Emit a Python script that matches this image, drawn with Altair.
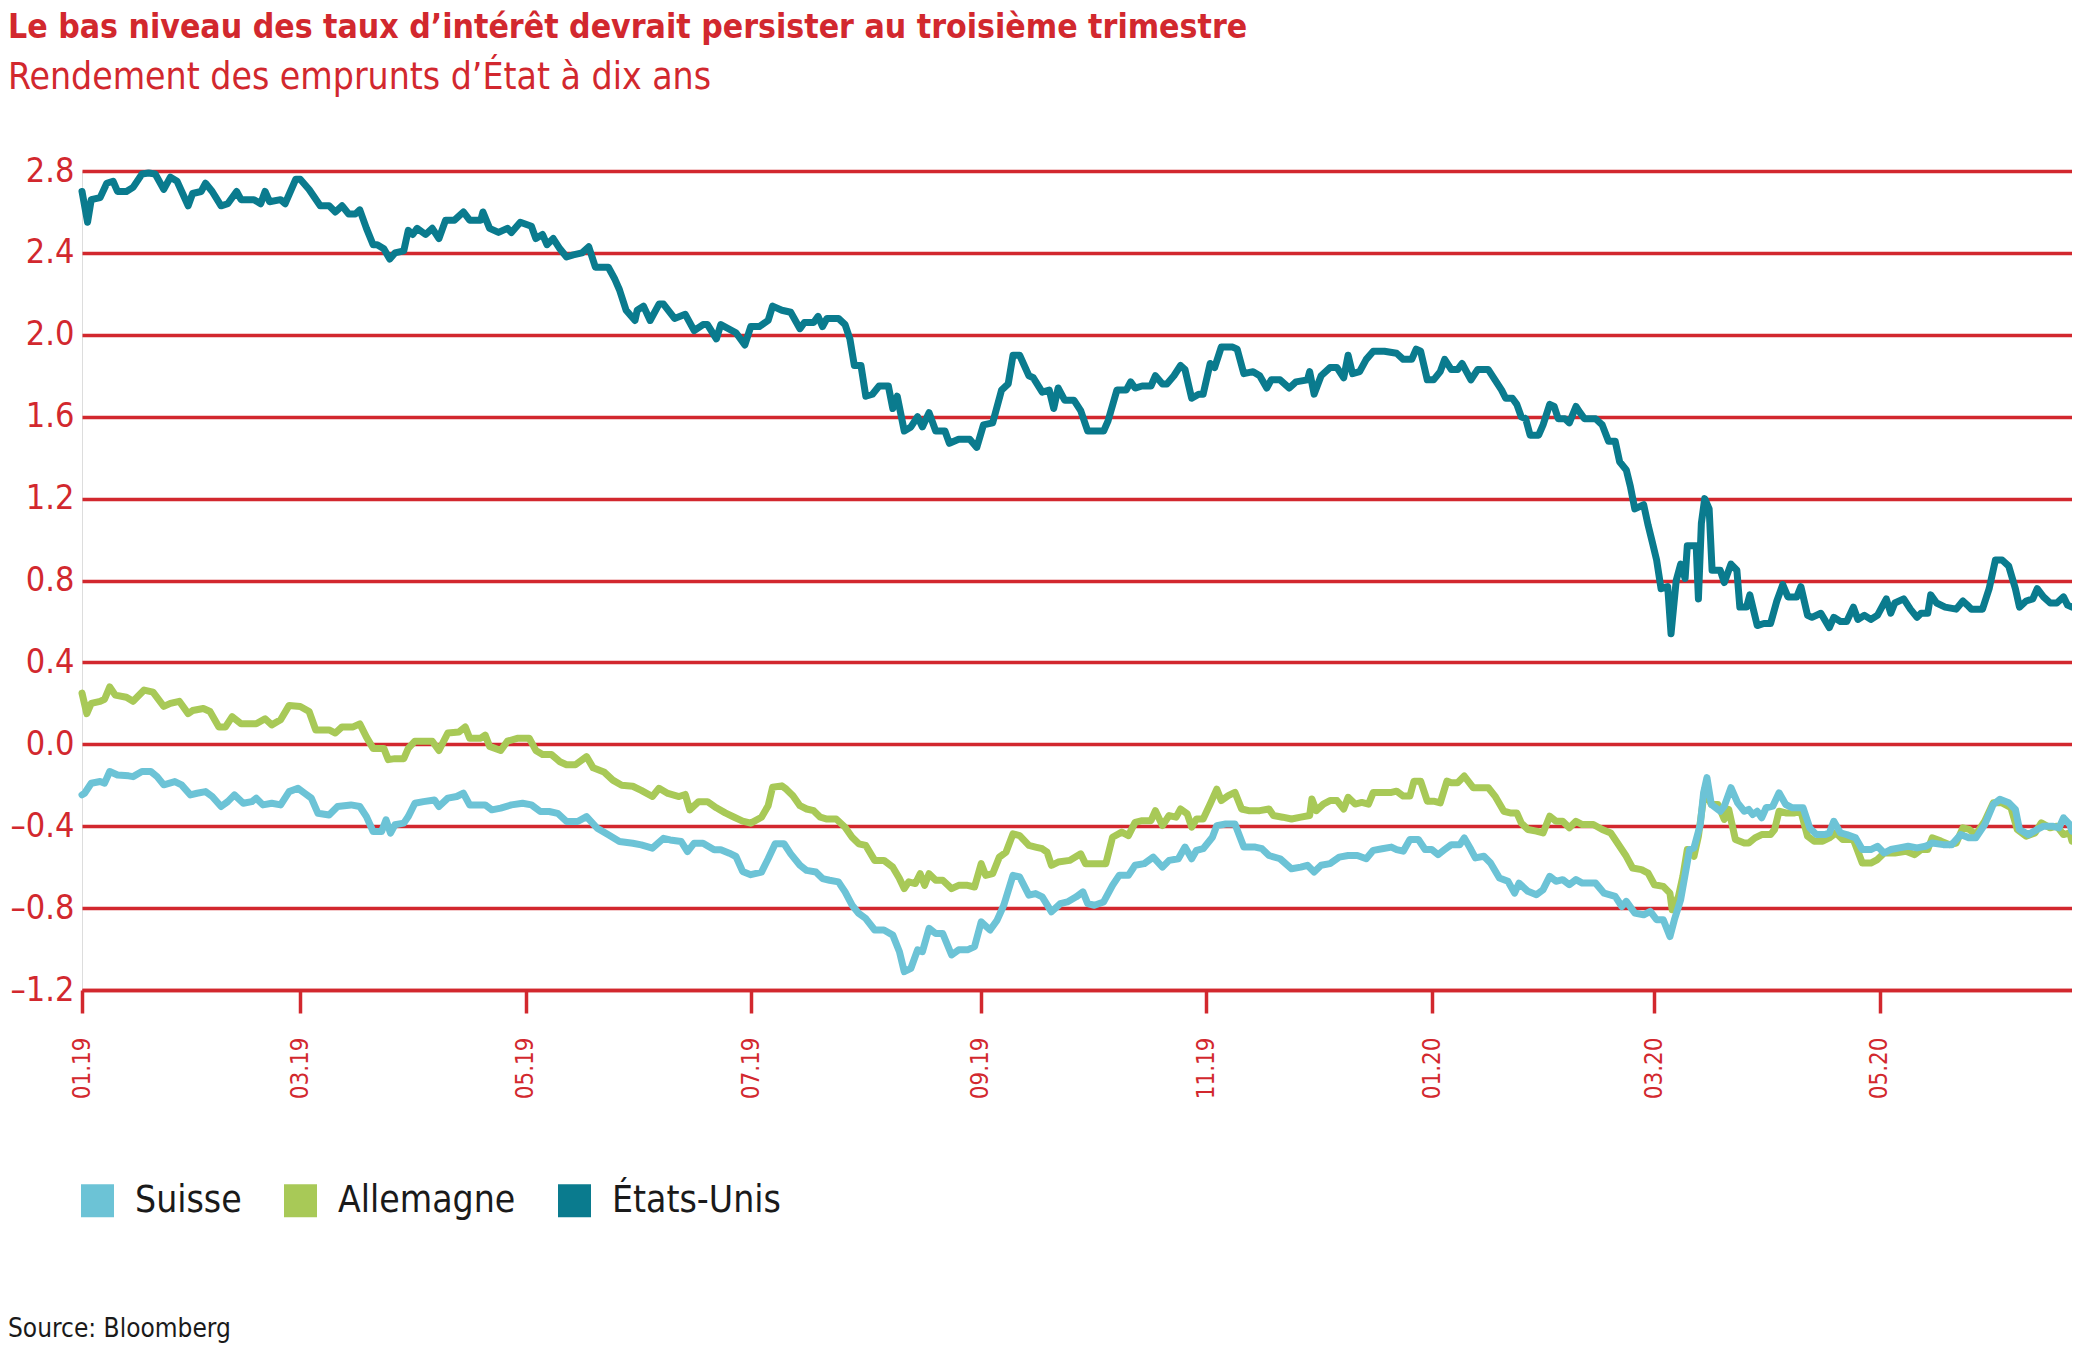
import altair as alt
import pandas as pd

RED = "#d2282e"
FONT = "Liberation Sans Narrow, DejaVu Sans Condensed, Arial Narrow, sans-serif"

# (days since 01.01.2019, 10-year yield in %)
usa = [
    (0, 2.70), (1.5, 2.55), (2.5, 2.66), (4.9, 2.67), (6.7, 2.74), (8.4, 2.75), (9.6, 2.70),
    (12.0, 2.70), (13.8, 2.72), (16.2, 2.785), (18.0, 2.79), (19.8, 2.785), (22.1, 2.71),
    (23.9, 2.77), (25.7, 2.75), (28.7, 2.63), (29.9, 2.69), (32.2, 2.70), (33.4, 2.74),
    (35.2, 2.70), (37.6, 2.63), (39.4, 2.64), (41.8, 2.70), (43.0, 2.66), (46.5, 2.66),
    (48.3, 2.64), (49.5, 2.70), (50.7, 2.65), (53.7, 2.66), (54.9, 2.64), (57.8, 2.76),
    (59.0, 2.76), (61.4, 2.71), (64.4, 2.63), (66.8, 2.63), (68.5, 2.60), (70.3, 2.63),
    (72.1, 2.59), (73.9, 2.59), (75.1, 2.61), (76.9, 2.52), (78.7, 2.44), (79.8, 2.44),
    (81.6, 2.42), (83.2, 2.37), (84.6, 2.40), (87.0, 2.41), (88.2, 2.51), (89.4, 2.49),
    (90.6, 2.52), (92.9, 2.49), (94.7, 2.52), (96.5, 2.47), (98.3, 2.56), (100.7, 2.56),
    (103.1, 2.60), (104.8, 2.56), (107.8, 2.56), (108.4, 2.60), (110.2, 2.52), (112.6, 2.50),
    (115.0, 2.52), (116.1, 2.50), (118.5, 2.55), (121.5, 2.53), (122.7, 2.47), (124.5, 2.49),
    (125.7, 2.44), (127.4, 2.47), (129.2, 2.42), (131.0, 2.38), (132.8, 2.39), (135.2, 2.40),
    (137.0, 2.43), (138.8, 2.33), (142.3, 2.33), (144.1, 2.27), (145.3, 2.22), (147.1, 2.12),
    (149.5, 2.07), (150.1, 2.12), (151.8, 2.14), (153.6, 2.07), (156.0, 2.15), (157.2, 2.15),
    (160.2, 2.08), (163.1, 2.10), (165.5, 2.02), (167.9, 2.05), (169.1, 2.05), (171.5, 1.98),
    (172.7, 2.05), (176.8, 2.01), (179.2, 1.95), (180.8, 2.04),
    (183.1, 2.04), (185.5, 2.07), (186.7, 2.14), (189.2, 2.12), (191.6, 2.11), (194.1, 2.03),
    (195.3, 2.06), (197.8, 2.06), (199.0, 2.09), (200.2, 2.04), (201.4, 2.08), (204.5, 2.08),
    (206.3, 2.05), (207.6, 1.98), (208.8, 1.85), (210.6, 1.85), (211.9, 1.70), (213.7, 1.71),
    (215.5, 1.75), (218.0, 1.75), (219.2, 1.64), (220.4, 1.70), (222.3, 1.53), (224.1, 1.55),
    (225.9, 1.60), (227.2, 1.55), (229.0, 1.62), (230.8, 1.53), (233.3, 1.53), (234.5, 1.47),
    (237.0, 1.49), (240.0, 1.49), (241.9, 1.45), (243.7, 1.56), (246.2, 1.57), (248.6, 1.73),
    (250.4, 1.76), (251.7, 1.90), (253.5, 1.90), (256.0, 1.80), (257.2, 1.79), (259.6, 1.72),
    (261.5, 1.73), (262.7, 1.64), (263.9, 1.74), (265.7, 1.68), (268.2, 1.68), (270.0, 1.63),
    (271.9, 1.53), (274.3, 1.53), (276.2, 1.53), (277.4, 1.58), (279.8, 1.73), (282.3, 1.73),
    (283.5, 1.77), (284.7, 1.74), (286.6, 1.75), (289.0, 1.75), (290.2, 1.80), (292.1, 1.76),
    (293.3, 1.76), (295.2, 1.80), (297.0, 1.85), (298.2, 1.83), (300.0, 1.69), (301.9, 1.71),
    (303.1, 1.71), (305.0, 1.86), (306.2, 1.84), (308.0, 1.94), (311.1, 1.94), (312.3, 1.93),
    (314.1, 1.81), (316.6, 1.82), (318.4, 1.80), (320.3, 1.74), (321.5, 1.78), (323.9, 1.78),
    (326.4, 1.74), (328.2, 1.77), (331.3, 1.78), (331.9, 1.82), (333.1, 1.71), (335.0, 1.80),
    (337.4, 1.84), (339.3, 1.84), (341.1, 1.79), (342.3, 1.90), (343.5, 1.81), (345.4, 1.82),
    (347.2, 1.88), (349.1, 1.92), (352.1, 1.92),
    (355.4, 1.91), (357.2, 1.88), (359.5, 1.88), (360.7, 1.93), (361.9, 1.92), (363.7, 1.78),
    (365.4, 1.78), (367.2, 1.82), (368.4, 1.88), (370.2, 1.83), (371.9, 1.83), (373.1, 1.86),
    (375.5, 1.78), (377.3, 1.83), (380.2, 1.83), (382.0, 1.78), (383.8, 1.73), (384.9, 1.69),
    (386.7, 1.69), (387.9, 1.66), (389.1, 1.60), (390.3, 1.59), (391.5, 1.51), (393.8, 1.51),
    (395.0, 1.56), (396.8, 1.66), (398.0, 1.65), (399.1, 1.59), (400.9, 1.59), (402.1, 1.57),
    (403.9, 1.65), (405.0, 1.62), (406.2, 1.59), (409.2, 1.59), (411.0, 1.56), (412.7, 1.48),
    (414.5, 1.48), (415.7, 1.38), (417.5, 1.34), (418.6, 1.26), (419.8, 1.15), (422.2, 1.17),
    (423.4, 1.07), (424.5, 0.99), (425.7, 0.90), (426.9, 0.76), (428.7, 0.77), (429.6, 0.54),
    (431.0, 0.80), (432.2, 0.88), (433.4, 0.81), (434.0, 0.97), (436.4, 0.97), (437.0, 0.71),
    (437.8, 1.08), (438.7, 1.20), (439.9, 1.15), (440.7, 0.85), (442.9, 0.85), (444.0, 0.79),
    (445.8, 0.88), (447.4, 0.85), (448.2, 0.67), (450.0, 0.67), (450.9, 0.73), (452.9, 0.58),
    (454.7, 0.59), (456.5, 0.59), (458.2, 0.70), (459.8, 0.78), (461.2, 0.72), (463.6, 0.72),
    (464.7, 0.77), (466.5, 0.63), (467.7, 0.62), (470.1, 0.64), (472.4, 0.57), (473.6, 0.62),
    (475.4, 0.60), (477.1, 0.60), (478.9, 0.67), (480.1, 0.61), (481.9, 0.63), (483.6, 0.61),
    (485.4, 0.63), (487.8, 0.71), (489.0, 0.64), (490.1, 0.69), (492.5, 0.71), (494.3, 0.66),
    (496.1, 0.62), (497.2, 0.64), (499.0, 0.64), (499.8, 0.73), (501.4, 0.69), (503.7, 0.67),
    (506.7, 0.66), (508.5, 0.70), (509.7, 0.68), (510.8, 0.66), (513.8, 0.66), (515.6, 0.76),
    (517.3, 0.90), (519.1, 0.90), (520.9, 0.87), (522.7, 0.76), (523.8, 0.67), (525.6, 0.70),
    (527.4, 0.71), (528.6, 0.76), (530.3, 0.72), (532.1, 0.69), (533.9, 0.69), (535.7, 0.72),
    (536.8, 0.68), (538.0, 0.67),
]

allemagne = [
    (0, 0.25), (1.3, 0.15), (2.5, 0.20), (4.9, 0.21), (6.1, 0.22), (7.5, 0.28), (9.0, 0.24),
    (12.0, 0.23), (13.8, 0.21), (16.8, 0.265), (19.2, 0.255), (22.1, 0.185), (23.9, 0.20),
    (26.3, 0.21), (28.7, 0.15), (29.9, 0.165), (32.8, 0.175), (34.6, 0.16), (37.0, 0.085),
    (38.8, 0.085), (40.6, 0.135), (43.0, 0.10), (45.3, 0.10), (47.1, 0.10), (49.5, 0.125),
    (51.3, 0.095), (53.7, 0.12), (56.0, 0.19), (59.0, 0.185), (61.4, 0.16), (63.2, 0.07),
    (66.8, 0.07), (68.5, 0.055), (70.3, 0.085), (73.3, 0.085), (75.1, 0.10), (76.9, 0.035),
    (78.7, -0.02), (81.6, -0.02), (82.8, -0.075), (84.6, -0.07), (87.0, -0.07), (88.2, -0.02),
    (90.0, 0.015), (91.7, 0.015), (94.7, 0.015), (96.5, -0.03), (98.9, 0.055), (101.9, 0.06),
    (103.6, 0.085), (104.8, 0.03), (107.8, 0.03), (109.0, 0.045), (110.2, -0.01), (113.2, -0.03),
    (115.0, 0.015), (117.9, 0.03), (120.9, 0.03), (122.7, -0.03), (124.5, -0.05), (126.9, -0.05),
    (129.2, -0.085), (131.0, -0.10), (133.4, -0.10), (136.4, -0.06), (138.2, -0.115),
    (141.1, -0.135), (143.5, -0.175), (145.9, -0.20), (148.9, -0.205), (151.2, -0.225),
    (154.2, -0.255), (156.0, -0.215), (158.4, -0.24), (161.4, -0.255), (163.1, -0.245),
    (164.3, -0.32), (166.7, -0.28), (169.1, -0.28), (171.5, -0.31), (173.9, -0.335),
    (176.2, -0.355), (178.6, -0.375), (180.8, -0.385),
    (183.7, -0.356), (185.5, -0.30), (186.7, -0.21), (189.2, -0.203), (190.4, -0.219),
    (192.2, -0.251), (194.1, -0.30), (195.9, -0.316), (197.8, -0.324), (199.6, -0.356),
    (201.4, -0.365), (203.9, -0.365), (206.3, -0.405), (208.2, -0.454), (210.0, -0.486),
    (211.9, -0.494), (214.3, -0.567), (216.8, -0.567), (219.2, -0.60), (221.0, -0.656),
    (222.3, -0.705), (223.5, -0.672), (225.3, -0.68), (226.6, -0.632), (227.8, -0.689),
    (229.0, -0.632), (230.8, -0.664), (232.7, -0.664), (235.1, -0.705), (237.0, -0.689),
    (239.4, -0.689), (241.3, -0.697), (243.1, -0.583), (244.3, -0.64), (246.2, -0.632),
    (248.0, -0.551), (249.8, -0.527), (251.7, -0.437), (253.5, -0.446), (256.0, -0.494),
    (257.8, -0.502), (259.6, -0.51), (260.9, -0.527), (262.1, -0.591), (263.9, -0.575),
    (267.0, -0.567), (270.0, -0.535), (271.3, -0.583), (273.1, -0.583), (276.8, -0.583),
    (278.6, -0.454), (281.1, -0.429), (282.9, -0.446), (284.7, -0.381), (286.6, -0.373),
    (289.0, -0.373), (290.2, -0.324), (292.1, -0.397), (293.9, -0.348), (295.8, -0.356),
    (297.0, -0.316), (298.8, -0.34), (300.0, -0.405), (301.3, -0.365), (303.1, -0.365),
    (305.0, -0.292), (306.8, -0.219), (308.0, -0.275), (309.9, -0.251), (311.7, -0.235),
    (313.5, -0.316), (315.4, -0.324), (318.4, -0.324), (320.9, -0.316), (322.1, -0.348),
    (324.6, -0.356), (327.0, -0.365), (329.5, -0.356), (331.9, -0.348), (332.5, -0.267),
    (333.7, -0.324), (335.6, -0.292), (337.4, -0.275), (339.3, -0.275), (341.1, -0.316),
    (342.3, -0.259), (344.2, -0.292), (346.0, -0.284), (347.8, -0.292), (349.1, -0.235),
    (351.5, -0.235), (354.0, -0.235),
    (355.4, -0.229), (357.2, -0.253), (359.0, -0.253), (360.1, -0.18), (361.9, -0.18),
    (363.7, -0.278), (365.4, -0.278), (367.2, -0.286), (369.0, -0.18), (370.2, -0.188),
    (371.9, -0.188), (373.7, -0.155), (376.1, -0.212), (378.4, -0.212), (380.2, -0.212),
    (382.0, -0.253), (384.4, -0.327), (386.1, -0.335), (387.9, -0.335), (389.1, -0.384),
    (390.9, -0.416), (393.2, -0.424), (395.0, -0.433), (396.8, -0.351), (398.5, -0.376),
    (400.3, -0.376), (402.1, -0.408), (403.9, -0.376), (405.6, -0.392), (408.6, -0.392),
    (411.0, -0.416), (413.3, -0.433), (415.7, -0.498), (417.5, -0.547), (419.2, -0.604),
    (421.6, -0.612), (423.4, -0.629), (425.1, -0.686), (427.5, -0.694), (429.3, -0.727),
    (429.9, -0.808), (431.6, -0.743), (432.8, -0.645), (434.0, -0.514), (435.8, -0.547),
    (437.0, -0.449), (438.7, -0.22), (440.5, -0.294), (442.3, -0.294), (444.0, -0.367),
    (445.2, -0.318), (447.0, -0.465), (449.4, -0.482), (450.6, -0.482), (452.3, -0.457),
    (454.1, -0.441), (456.5, -0.441), (457.6, -0.416), (458.8, -0.327), (460.6, -0.335),
    (463.0, -0.335), (464.7, -0.327), (466.5, -0.449), (468.3, -0.473), (470.6, -0.473),
    (472.4, -0.457), (474.2, -0.433), (476.0, -0.465), (478.9, -0.465), (481.3, -0.58),
    (483.6, -0.58), (485.4, -0.563), (487.2, -0.531), (490.1, -0.531), (493.1, -0.522),
    (495.5, -0.539), (497.2, -0.514), (499.0, -0.514), (500.2, -0.457), (502.6, -0.473),
    (504.9, -0.49), (506.7, -0.482), (508.5, -0.408), (510.2, -0.416), (512.0, -0.441),
    (514.4, -0.376), (516.7, -0.286), (519.1, -0.286), (521.5, -0.31), (523.2, -0.416),
    (525.6, -0.449), (528.0, -0.433), (529.7, -0.384), (532.1, -0.408), (533.9, -0.40),
    (535.7, -0.441), (537.4, -0.433), (538.0, -0.473),
]

suisse = [
    (0, -0.247), (0.7, -0.239), (2.5, -0.19), (4.9, -0.182), (6.1, -0.19), (7.5, -0.133),
    (9.6, -0.15), (12.6, -0.154), (13.8, -0.158), (16.2, -0.133), (18.6, -0.133),
    (20.3, -0.158), (22.1, -0.198), (25.1, -0.182), (26.9, -0.198), (29.3, -0.247),
    (31.1, -0.239), (33.4, -0.231), (35.2, -0.255), (37.6, -0.304), (39.4, -0.28),
    (41.2, -0.247), (43.6, -0.288), (45.9, -0.28), (47.1, -0.263), (48.9, -0.296),
    (51.3, -0.288), (53.7, -0.296), (56.0, -0.231), (58.4, -0.215), (60.2, -0.239),
    (62.0, -0.263), (63.8, -0.337), (66.8, -0.345), (69.1, -0.304), (72.7, -0.296),
    (75.1, -0.304), (76.9, -0.353), (78.7, -0.426), (81.0, -0.426), (82.2, -0.369),
    (83.4, -0.434), (84.6, -0.393), (87.0, -0.385), (88.2, -0.353), (90.0, -0.288),
    (92.3, -0.28), (95.3, -0.272), (96.5, -0.304), (98.9, -0.263), (101.3, -0.255),
    (103.1, -0.239), (104.8, -0.296), (109.0, -0.296), (110.8, -0.32), (113.2, -0.312),
    (116.1, -0.296), (119.1, -0.288), (121.5, -0.296), (123.9, -0.328), (126.3, -0.328),
    (128.6, -0.337), (131.0, -0.377), (134.0, -0.377), (136.4, -0.353), (139.3, -0.41),
    (142.3, -0.442), (145.3, -0.475), (148.9, -0.483), (151.2, -0.491), (154.2, -0.507),
    (157.2, -0.459), (159.0, -0.467), (162.0, -0.475), (163.7, -0.524), (165.5, -0.483),
    (167.9, -0.483), (170.9, -0.515), (172.7, -0.515), (175.0, -0.532), (176.8, -0.548),
    (178.6, -0.621), (180.8, -0.637),
    (183.7, -0.624), (185.5, -0.559), (187.4, -0.486), (189.8, -0.486), (191.6, -0.535),
    (194.1, -0.591), (195.9, -0.616), (198.4, -0.624), (200.2, -0.656), (202.1, -0.664),
    (204.5, -0.672), (206.3, -0.721), (208.2, -0.786), (210.0, -0.826), (211.9, -0.851),
    (214.3, -0.907), (216.8, -0.907), (219.2, -0.932), (221.0, -1.013), (222.3, -1.11),
    (224.1, -1.094), (225.9, -1.004), (227.2, -1.013), (229.0, -0.899), (230.8, -0.924),
    (232.7, -0.924), (235.1, -1.029), (237.0, -1.004), (239.4, -1.004), (241.3, -0.988),
    (243.1, -0.867), (245.5, -0.907), (247.4, -0.859), (249.2, -0.786), (251.7, -0.64),
    (253.5, -0.648), (256.0, -0.737), (257.8, -0.729), (259.6, -0.745), (262.1, -0.818),
    (264.5, -0.778), (266.4, -0.77), (268.8, -0.745), (270.6, -0.721), (271.9, -0.778),
    (273.7, -0.786), (276.2, -0.77), (278.6, -0.689), (280.4, -0.64), (282.9, -0.64),
    (284.7, -0.591), (287.2, -0.583), (289.6, -0.551), (292.1, -0.6), (293.9, -0.567),
    (296.4, -0.559), (298.2, -0.502), (300.0, -0.559), (301.3, -0.518), (303.1, -0.51),
    (305.6, -0.454), (306.8, -0.397), (309.2, -0.389), (311.7, -0.389), (314.1, -0.502),
    (317.2, -0.502), (319.0, -0.51), (320.9, -0.543), (323.9, -0.559), (327.0, -0.608),
    (329.5, -0.6), (331.3, -0.591), (333.1, -0.624), (335.0, -0.591), (337.4, -0.583),
    (339.9, -0.551), (342.3, -0.543), (344.8, -0.543), (347.2, -0.559), (349.1, -0.518),
    (351.5, -0.51), (354.0, -0.502),
    (355.4, -0.514), (357.2, -0.522), (359.0, -0.465), (361.3, -0.465), (363.1, -0.514),
    (364.9, -0.514), (366.6, -0.539), (368.4, -0.514), (370.2, -0.49), (372.5, -0.49),
    (373.7, -0.457), (375.5, -0.514), (376.7, -0.555), (379.0, -0.547), (380.8, -0.58),
    (383.2, -0.653), (385.5, -0.669), (387.3, -0.727), (388.5, -0.678), (390.9, -0.718),
    (393.2, -0.735), (395.0, -0.71), (396.8, -0.645), (398.5, -0.669), (400.3, -0.661),
    (402.1, -0.686), (403.9, -0.661), (405.6, -0.678), (409.2, -0.678), (411.5, -0.727),
    (414.5, -0.743), (416.3, -0.792), (417.5, -0.767), (419.8, -0.824), (422.2, -0.833),
    (424.0, -0.816), (425.7, -0.857), (427.5, -0.857), (429.3, -0.939), (430.5, -0.857),
    (432.2, -0.759), (433.4, -0.637), (434.6, -0.514), (435.8, -0.506), (437.5, -0.392),
    (438.4, -0.237), (439.3, -0.163), (440.5, -0.294), (442.9, -0.327), (444.0, -0.302),
    (445.8, -0.212), (447.6, -0.286), (449.4, -0.327), (450.6, -0.318), (451.7, -0.343),
    (452.9, -0.327), (454.1, -0.359), (455.3, -0.31), (457.1, -0.302), (458.8, -0.237),
    (460.6, -0.294), (462.4, -0.31), (465.3, -0.31), (467.1, -0.408), (468.9, -0.441),
    (471.2, -0.441), (472.4, -0.433), (473.6, -0.376), (475.4, -0.433), (477.1, -0.441),
    (479.5, -0.457), (481.3, -0.514), (483.6, -0.514), (485.4, -0.498), (487.2, -0.531),
    (489.0, -0.514), (491.3, -0.506), (493.7, -0.498), (496.1, -0.506), (498.4, -0.498),
    (500.2, -0.482), (503.2, -0.49), (505.5, -0.49), (507.9, -0.441), (510.2, -0.457),
    (512.0, -0.457), (514.4, -0.392), (516.7, -0.294), (518.5, -0.269), (520.9, -0.286),
    (522.7, -0.318), (523.8, -0.416), (526.2, -0.441), (528.6, -0.416), (530.3, -0.40),
    (532.7, -0.40), (534.5, -0.408), (535.7, -0.359), (537.4, -0.392), (538.0, -0.424),
]

pays = ["Suisse", "Allemagne", "États-Unis"]
couleurs = ["#6cc3d6", "#a8c957", "#0a7b8e"]
y_ticks = [-1.2, -0.8, -0.4, 0.0, 0.4, 0.8, 1.2, 1.6, 2.0, 2.4, 2.8]
x_ticks = [(2019, 1), (2019, 3), (2019, 5), (2019, 7), (2019, 9), (2019, 11),
           (2020, 1), (2020, 3), (2020, 5)]

start = pd.Timestamp("2019-01-01")
frames = []
# drawing order: US first, Switzerland last (on top)
for name, pts in [("États-Unis", usa), ("Allemagne", allemagne), ("Suisse", suisse)]:
    df = pd.DataFrame(pts, columns=["jour", "rendement"])
    df["date"] = start + pd.to_timedelta(df["jour"], unit="D")
    df["pays"] = name
    frames.append(df[["date", "rendement", "pays"]])
data = pd.concat(frames, ignore_index=True)

colour_scale = alt.Scale(domain=pays, range=couleurs)

x_enc = alt.X(
    "date:T",
    title=None,
    scale=alt.Scale(domain=[alt.DateTime(year=2019, month=1, date=1),
                            alt.DateTime(year=2020, month=6, date=22)]),
    axis=alt.Axis(
        values=[alt.DateTime(year=y, month=m, date=1) for y, m in x_ticks],
        format="%m.%y", labelAngle=270, labelColor=RED, labelFont=FONT,
        labelFontSize=24, labelPadding=24, grid=False,
        domainColor=RED, domainWidth=3.5, tickColor=RED, tickWidth=3.5, tickSize=23,
    ),
)
y_enc = alt.Y(
    "rendement:Q",
    title=None,
    scale=alt.Scale(domain=[-1.2, 2.8], nice=False, zero=False),
    axis=alt.Axis(
        values=y_ticks, format=".1f", labelColor=RED, labelFont=FONT,
        labelExpr="replace(datum.label, '\u2212', '\u2013')",
        labelFontSize=34, labelPadding=8, domain=False, ticks=False,
        grid=True, gridColor=RED, gridWidth=3.5,
    ),
)

lines = alt.Chart(data).mark_line(
    strokeWidth=7, strokeJoin="round", strokeCap="round"
).encode(
    x=x_enc, y=y_enc,
    color=alt.Color("pays:N", scale=colour_scale, legend=None),
    detail="pays:N",
)

# empty square layer only used to get filled square legend symbols
legend_layer = alt.Chart(data).mark_square(size=1089, opacity=1).encode(
    x="date:T", y="rendement:Q",
    color=alt.Color(
        "pays:N", scale=colour_scale,
        legend=alt.Legend(
            title=None, orient="none", legendX=-3, legendY=1011, padding=0,
            direction="horizontal", symbolType="square", symbolSize=1089,
            symbolStrokeWidth=0, labelFont=FONT, labelFontSize=37, labelLimit=400,
            labelColor="#1a1a1a", labelOffset=19, columnPadding=40,
        ),
    ),
).transform_filter("false")

source = alt.Chart(pd.DataFrame({"t": ["Source: Bloomberg"]})).mark_text(
    align="left", baseline="alphabetic", font=FONT, fontSize=26, color="#1a1a1a"
).encode(x=alt.value(-74), y=alt.value(1166), text="t:N")

chart = (
    alt.layer(lines, legend_layer, source)
    .resolve_legend(color="independent")
    .properties(
        width=1990,
        height=819,
        autosize=alt.AutoSizeParams(type="none"),
        padding={"left": 74, "top": 163, "right": 0, "bottom": 354},
        title=alt.TitleParams(
            text="Le bas niveau des taux d’intérêt devrait persister au troisième trimestre",
            subtitle="Rendement des emprunts d’État à dix ans",
            anchor="start", frame="group", dx=-74, offset=57,
            font=FONT, fontSize=33.5, fontWeight="bold", color=RED,
            subtitleFont=FONT, subtitleFontSize=37, subtitleColor=RED,
            subtitlePadding=15,
        ),
    )
    .configure_view(stroke="transparent")
    .configure(background="white")
)

chart.save("out.html", embed_options={"renderer": "svg", "actions": False})
